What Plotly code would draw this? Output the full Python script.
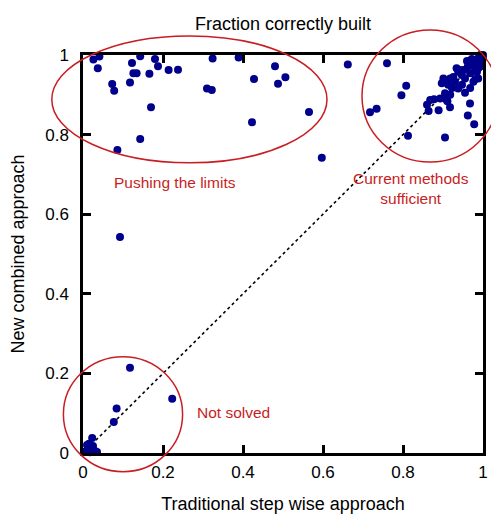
import plotly.graph_objects as go

# ---- data ----
pushing_x = [0.026, 0.041, 0.037, 0.073, 0.078, 0.1225, 0.1175, 0.126, 0.134, 0.143,
             0.143, 0.086, 0.166, 0.170, 0.180, 0.1875, 0.214, 0.2375, 0.324, 0.31,
             0.322, 0.389, 0.4275, 0.4225, 0.48, 0.4875, 0.506, 0.565, 0.597, 0.662,
             0.7175, 0.734, 0.0925]
pushing_y = [0.989, 0.996, 0.967, 0.927, 0.910, 0.980, 0.931, 0.954, 0.954, 0.997,
             0.789, 0.761, 0.953, 0.869, 0.990, 0.972, 0.962, 0.963, 0.991, 0.916,
             0.912, 0.994, 0.940, 0.831, 0.972, 0.928, 0.944, 0.857, 0.742, 0.976,
             0.856, 0.865, 0.543]

current_x = [0.76, 0.808, 0.796, 0.8125, 0.905, 0.864, 0.889, 0.86, 0.8775, 0.9175,
             0.911, 0.905, 0.902, 0.962, 0.978, 0.9675, 0.955, 0.981, 0.909,
             0.988, 0.980, 0.972, 0.962, 0.951, 0.938, 0.934, 0.947, 0.926, 0.918,
             0.905, 0.897, 0.901, 0.913, 0.930, 0.955, 0.968, 0.980, 0.993, 0.997,
             1.0, 0.988, 0.918, 0.893, 0.868, 0.938, 0.976, 0.988, 0.993, 1.0,
             0.9475, 0.968, 0.9225, 0.960, 0.985, 0.942, 0.972]
current_y = [0.979, 0.923, 0.899, 0.797, 0.793, 0.859, 0.861, 0.875, 0.889, 0.869,
             0.884, 0.904, 0.935, 0.848, 0.826, 0.878, 0.905, 0.940, 0.887,
             0.992, 0.983, 0.975, 0.971, 0.962, 0.958, 0.967, 0.950, 0.945, 0.941,
             0.937, 0.929, 0.941, 0.925, 0.933, 0.941, 0.954, 0.967, 0.971, 0.979,
             0.992, 0.967, 0.900, 0.891, 0.887, 0.916, 0.933, 0.941, 1.0, 1.0,
             0.925, 0.917, 0.917, 0.985, 0.958, 0.962, 0.990]

unsolved_x = [0.1175, 0.223, 0.084, 0.077, 0.023, 0.015, 0.0125, 0.02, 0.03, 0.0075,
              0.0025, 0.025, 0.035, 0.0175, 0.01, 0.022]
unsolved_y = [0.214, 0.136, 0.112, 0.078, 0.038, 0.023, 0.0125, 0.0075, 0.005, 0.0025,
              0.0025, 0.0175, 0.0025, 0.002, 0.02, 0.012]

tick_vals = [0, 0.2, 0.4, 0.6, 0.8, 1]
tick_text = ["0", "0.2", "0.4", "0.6", "0.8", "1"]
diag = [0, 1]

all_x = pushing_x + current_x + unsolved_x
all_y = pushing_y + current_y + unsolved_y

RED = "rgb(200,30,35)"
NAVY = "rgb(0,0,140)"
FONT = "Liberation Sans, Arial, Helvetica, sans-serif"

fig = go.Figure()
fig.add_trace(go.Scatter(x=diag, y=diag, mode="lines",
                         line=dict(color="black", width=1.6, dash="dot"),
                         hoverinfo="skip", showlegend=False))
fig.add_trace(go.Scatter(x=all_x, y=all_y, mode="markers",
                         marker=dict(color=NAVY, size=8, line=dict(width=0)),
                         cliponaxis=False, showlegend=False))

# ellipses (paper coordinates so they are not clipped by the plot area)
ellipses = [
    (-0.078, 0.729, 0.61, 1.048),
    (0.6975, 0.731, 1.0375, 1.063),
    (-0.049, -0.047, 0.249, 0.242),
]
for x0, y0, x1, y1 in ellipses:
    fig.add_shape(type="circle", xref="paper", yref="paper",
                  x0=x0, y0=y0, x1=x1, y1=y1,
                  line=dict(color=RED, width=1.5), layer="above")

labels = [
    ("Pushing the limits", 0.229, 0.680),
    ("Current methods<br>sufficient", 0.82, 0.664),
    ("Not solved", 0.376, 0.102),
]
for txt, ax, ay in labels:
    fig.add_annotation(text=txt, x=ax, y=ay, xref="paper", yref="paper",
                       showarrow=False, font=dict(color=RED, size=15.5, family=FONT),
                       xanchor="center", yanchor="middle")

axis_common = dict(range=[0, 1], tickvals=tick_vals, ticktext=tick_text,
                   showline=True, linecolor="black", linewidth=2.5, mirror="ticks",
                   ticks="inside", ticklen=8, tickwidth=2.5, tickcolor="black",
                   showgrid=False, zeroline=False, automargin=False,
                   tickfont=dict(size=17, family=FONT, color="black"))

fig.update_layout(
    width=491, height=514,
    margin=dict(l=83, r=8, t=55, b=61),
    plot_bgcolor="white", paper_bgcolor="white",
    title=dict(text="Fraction correctly built", x=0.5765, xanchor="center",
               y=1 - 24 / 514, yanchor="middle",
               font=dict(size=18, family=FONT, color="black")),
    xaxis=dict(**axis_common, ticklabelstandoff=2,
               title=dict(text="Traditional step wise approach", standoff=18,
                          font=dict(size=18, family=FONT, color="black"))),
    yaxis=dict(**axis_common, ticklabelstandoff=8,
               title=dict(text="New combined approach", standoff=16,
                          font=dict(size=18, family=FONT, color="black"))),
)

fig.write_html("out.html", config={"displayModeBar": False},
               post_script="document.body.style.margin='0';document.body.style.overflow='hidden';")
